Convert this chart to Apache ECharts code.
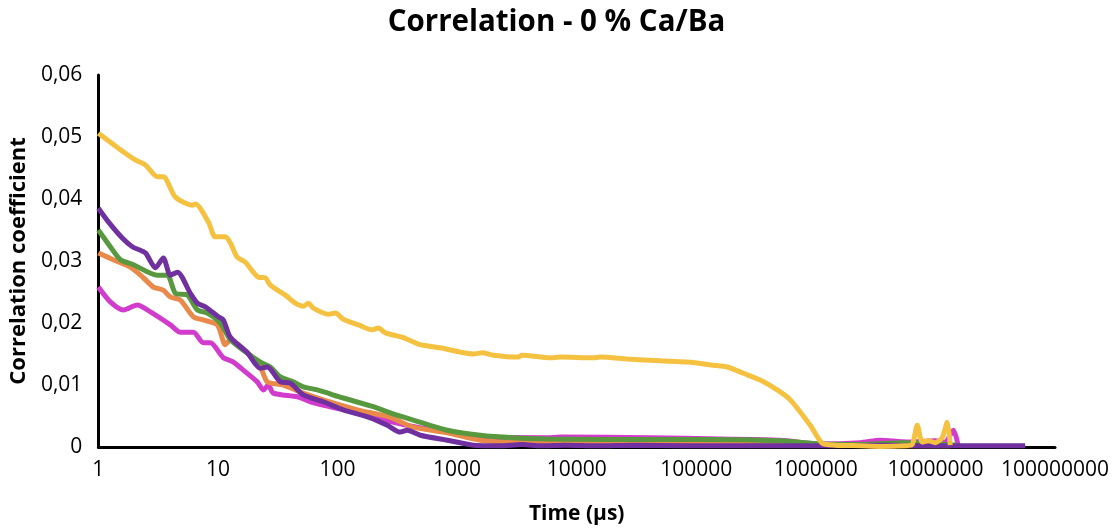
<!DOCTYPE html>
<html>
<head>
<meta charset="utf-8">
<script src="https://cdn.jsdelivr.net/npm/echarts@6/dist/echarts.min.js"></script>
<style>
  html, body { margin: 0; padding: 0; background: #ffffff; }
  #chart { width: 1113px; height: 530px; }
</style>
</head>
<body>
<div id="chart"></div>
<script>
// Tick labels
const xTickLabels = ['1', '10', '100', '1000', '10000', '100000', '1000000', '10000000', '100000000'];
const yTickLabels = ['0', '0,01', '0,02', '0,03', '0,04', '0,05', '0,06'];

// Series: times (µs) and correlation coefficients
const yellowTime = [1, 1.469, 2.037, 2.472, 3.112, 3.491, 4.406, 6.109, 6.471, 8.318, 9.506, 11.53, 12.71, 14.52, 16.94, 21.78, 24.89, 27.42, 36.64, 44.36, 51.76, 57.02, 62.81, 83.75, 95.94, 111.7, 149.3, 195.4, 219.3, 251.2, 348.3, 390.8, 492, 724.4, 1064, 1365, 1626, 2009, 3184, 3508, 6012, 7295, 13770, 15740, 26490, 50000, 84140, 138700, 181600, 247200, 342800, 475300, 611000, 897500, 1132000, 1452000, 2350000, 3451000, 5585000, 6397000, 7047000, 7762000, 8710000, 9954000, 11400000, 12560000, 13300000];
const yellowValue = [0.0506, 0.0482, 0.0463, 0.0455, 0.0436, 0.0436, 0.0403, 0.0390, 0.0392, 0.0363, 0.0339, 0.0339, 0.0329, 0.0306, 0.0298, 0.0274, 0.0273, 0.0261, 0.0245, 0.0232, 0.0227, 0.0232, 0.0224, 0.0214, 0.0216, 0.0206, 0.0197, 0.0189, 0.0192, 0.0184, 0.0177, 0.0173, 0.0165, 0.0160, 0.0153, 0.0150, 0.0152, 0.0148, 0.0145, 0.0148, 0.0144, 0.0145, 0.0144, 0.0145, 0.0142, 0.0139, 0.0137, 0.0132, 0.0129, 0.0119, 0.0108, 0.0092, 0.0076, 0.0035, 0.0006, 0.0003, 0.0002, 0.0001, 0.0002, 0.0004, 0.0035, 0.0008, 0.0010, 0.0007, 0.0015, 0.0040, 0.0003];

const orangeTime = [1, 1.334, 1.854, 2.377, 2.884, 3.491, 4.0, 4.853, 6.223, 7.551, 9.886, 11.53, 12.71, 17.62, 22.65, 25.88, 35.24, 51.76, 76.03, 146.6, 276.1, 430.5, 827.9, 1563, 2951, 15740, 107200, 741300, 1452000, 3451000, 7047000, 13300000];
const orangeValue = [0.0313, 0.0302, 0.0290, 0.0273, 0.0258, 0.0253, 0.0242, 0.0237, 0.0210, 0.0205, 0.0197, 0.0165, 0.0173, 0.0152, 0.0129, 0.0105, 0.0100, 0.0087, 0.0076, 0.0060, 0.0048, 0.0032, 0.0023, 0.0011, 0.0008, 0.0008, 0.0007, 0.0004, 0.0003, 0.0003, 0.0002, 0.0002];

const greenTime = [1, 1.259, 1.528, 1.963, 3.112, 3.776, 4.406, 5.546, 6.730, 8.147, 10.47, 12.71, 16.29, 22.65, 27.42, 33.27, 42.66, 51.76, 67.76, 111.7, 199.1, 276.1, 418, 827.9, 1563, 2951, 5675, 15740, 107200, 501200, 1096000, 2350000, 5585000, 15490000];
const greenValue = [0.0350, 0.0323, 0.0302, 0.0294, 0.0277, 0.0277, 0.0248, 0.0245, 0.0221, 0.0216, 0.0200, 0.0173, 0.0156, 0.0137, 0.0129, 0.0113, 0.0105, 0.0097, 0.0092, 0.0079, 0.0065, 0.0055, 0.0044, 0.0027, 0.0019, 0.0015, 0.0013, 0.0012, 0.0012, 0.0010, 0.0005, 0.0004, 0.0007, 0.0003];

const purpleTime = [1, 1.213, 1.585, 1.923, 2.472, 3.0, 3.491, 4.0, 4.581, 5.875, 6.730, 7.852, 10.07, 11.09, 12.71, 17.62, 22.65, 25.88, 33.27, 40.27, 51.76, 76.03, 111.7, 187.9, 260.6, 335.0, 383.7, 492.0, 827.9, 1365, 2291, 3500, 5000, 8000, 15000, 30000, 80000, 200000, 600000, 1500000, 4000000, 10000000, 20000000, 56230000];
const purpleValue = [0.0385, 0.0363, 0.0337, 0.0323, 0.0313, 0.0289, 0.0305, 0.0277, 0.0282, 0.0248, 0.0232, 0.0226, 0.0210, 0.0205, 0.0177, 0.0152, 0.0127, 0.0129, 0.0105, 0.0103, 0.0084, 0.0073, 0.0060, 0.0047, 0.0035, 0.0024, 0.0027, 0.0019, 0.0011, 0.0003, 0.0002, 0.0004, 0.0002, 0.0003, 0.0002, 0.0003, 0.0002, 0.0002, 0.0002, 0.0002, 0.0003, 0.0002, 0.0002, 0.0002];

const magentaTime = [1, 1.259, 1.618, 2.118, 2.723, 4.0, 4.853, 6.223, 7.551, 8.630, 11.09, 13.46, 16.29, 21.33, 23.99, 26.36, 29.04, 46.13, 59.29, 87.10, 146.6, 241.5, 406.4, 827.9, 1563, 5675, 7295, 41210, 158500, 501200, 1096000, 2350000, 3467000, 5754000, 10000000, 12020000, 14130000, 15490000];
const magentaValue = [0.0258, 0.0234, 0.0221, 0.0229, 0.0218, 0.0197, 0.0185, 0.0185, 0.0168, 0.0168, 0.0144, 0.0137, 0.0124, 0.0105, 0.0092, 0.0100, 0.0087, 0.0081, 0.0073, 0.0065, 0.0055, 0.0044, 0.0034, 0.0024, 0.0016, 0.0015, 0.0016, 0.0015, 0.0013, 0.0011, 0.0005, 0.0007, 0.0011, 0.0008, 0.0010, 0.0008, 0.0027, 0.0002];

const seriesDefs = [
  { name: 'Magenta', time: magentaTime, value: magentaValue, color: '#D23CCD' },
  { name: 'Orange', time: orangeTime, value: orangeValue, color: '#E98A4A' },
  { name: 'Green', time: greenTime, value: greenValue, color: '#58993F' },
  { name: 'Purple', time: purpleTime, value: purpleValue, color: '#7030A0' },
  { name: 'Yellow', time: yellowTime, value: yellowValue, color: '#F5C141' }
];

const FONT = '"Open Sans", Lato, sans-serif';
const chart = echarts.init(document.getElementById('chart'), null, { renderer: 'canvas' });

chart.setOption({
  backgroundColor: '#ffffff',
  animation: false,
  title: {
    text: 'Correlation - 0 % Ca/Ba',
    left: 'center',
    top: 3,
    textStyle: { fontFamily: FONT, fontSize: 29.5, fontWeight: 'bold', color: '#000000' }
  },
  grid: { left: 98, right: 58, top: 75, bottom: 83 },
  xAxis: {
    type: 'log',
    logBase: 10,
    min: 1,
    max: 100000000,
    name: 'Time (µs)',
    nameLocation: 'middle',
    nameGap: 57,
    nameTextStyle: { fontFamily: FONT, fontSize: 21, fontWeight: 'bold', color: '#000000' },
    axisLine: { lineStyle: { color: '#000000', width: 3 } },
    axisTick: { show: false },
    splitLine: { show: false },
    axisLabel: {
      fontFamily: FONT, fontSize: 21, color: '#000000', margin: 13,
      formatter: function (v) { return xTickLabels[Math.round(Math.log10(v))]; }
    }
  },
  yAxis: {
    type: 'value',
    min: 0,
    max: 0.06,
    interval: 0.01,
    name: 'Correlation coefficient',
    nameLocation: 'middle',
    nameGap: 68,
    nameTextStyle: { fontFamily: FONT, fontSize: 22, fontWeight: 'bold', color: '#000000' },
    axisLine: { show: true, lineStyle: { color: '#000000', width: 3 } },
    axisTick: { show: false },
    splitLine: { show: false },
    axisLabel: {
      fontFamily: FONT, fontSize: 21, color: '#000000', margin: 16,
      formatter: function (v) { return yTickLabels[Math.round(v * 100)]; }
    }
  },
  series: seriesDefs.map(function (s) {
    return {
      name: s.name,
      type: 'line',
      data: s.time.map(function (t, i) { return [t, s.value[i]]; }),
      showSymbol: false,
      smooth: 0.25,
      lineStyle: { color: s.color, width: 5 },
      itemStyle: { color: s.color }
    };
  })
});
</script>
</body>
</html>
